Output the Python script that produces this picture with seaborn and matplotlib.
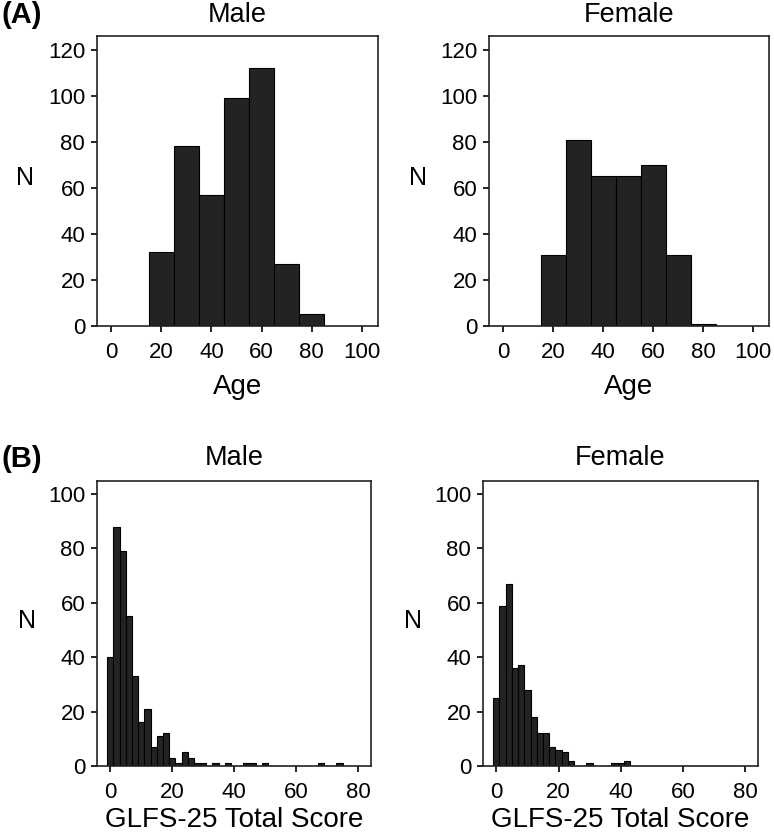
import numpy as np
import pandas as pd
import matplotlib
matplotlib.use("Agg")
import matplotlib.pyplot as plt
import seaborn as sns

# ---- data ----
age_mid = [20, 30, 40, 50, 60, 70, 80]
age_male_n = [32, 78, 57, 99, 112, 27, 5]
age_female_n = [31, 81, 65, 65, 70, 31, 1]

glfs_male_score = [0, 2, 4, 6, 8, 10, 12, 14, 16, 18, 20, 22, 24, 26, 28, 30,
                   34, 38, 44, 46, 50, 68, 74]
glfs_male_n = [40, 88, 79, 55, 33, 16, 21, 7, 11, 12, 3, 1, 5, 3, 1, 1,
               1, 1, 1, 1, 1, 1, 1]

glfs_female_score = [0, 2, 4, 6, 8, 10, 12, 14, 16, 18, 20, 22, 24, 30, 38, 40, 42]
glfs_female_n = [25, 59, 67, 36, 37, 28, 18, 12, 12, 7, 6, 5, 2, 1, 1, 1, 2]

sns.set_style("ticks")
plt.rcParams["font.family"] = ["Liberation Sans", "DejaVu Sans"]
plt.rcParams["text.color"] = "black"
plt.rcParams["axes.labelcolor"] = "black"

fig = plt.figure(figsize=(7.74, 8.36), dpi=100)

W, H = 774, 836


def box(l, t, r, b):
    return [l / W, 1 - b / H, (r - l) / W, (b - t) / H]


axes = {
    "age_m": fig.add_axes(box(97, 36, 378, 326)),
    "age_f": fig.add_axes(box(489, 36, 769, 326)),
    "glfs_m": fig.add_axes(box(97, 481, 371, 766)),
    "glfs_f": fig.add_axes(box(483, 481, 758, 766)),
}

bar_kw = dict(color="#232323", edgecolor="black", linewidth=0.8, alpha=1)

age_bins = np.arange(15, 95, 10)
glfs_bins = np.arange(-1, 79, 2)

df_age_m = pd.DataFrame({"x": age_mid, "n": age_male_n})
df_age_f = pd.DataFrame({"x": age_mid, "n": age_female_n})
df_glfs_m = pd.DataFrame({"x": glfs_male_score, "n": glfs_male_n})
df_glfs_f = pd.DataFrame({"x": glfs_female_score, "n": glfs_female_n})

sns.histplot(data=df_age_m, x="x", weights="n", bins=list(age_bins), ax=axes["age_m"], **bar_kw)
sns.histplot(data=df_age_f, x="x", weights="n", bins=list(age_bins), ax=axes["age_f"], **bar_kw)
sns.histplot(data=df_glfs_m, x="x", weights="n", bins=list(glfs_bins), ax=axes["glfs_m"], **bar_kw)
sns.histplot(data=df_glfs_f, x="x", weights="n", bins=list(glfs_bins), ax=axes["glfs_f"], **bar_kw)

for key, ax in axes.items():
    if key.startswith("age"):
        ax.set_xlim(-5.6, 106.4)
        ax.set_ylim(0, 126)
        ax.set_xticks(range(0, 101, 20))
        ax.set_yticks(range(0, 121, 20))
        ax.set_xlabel("Age", fontsize=20, labelpad=8)
        ax.set_title("Male" if key.endswith("m") else "Female", fontsize=19.5, pad=10)
    else:
        ax.set_xlim(-4.3, 84.2)
        ax.set_ylim(0, 104.8)
        ax.set_xticks(range(0, 81, 20))
        ax.set_yticks(range(0, 101, 20))
        ax.set_xlabel("GLFS-25 Total Score", fontsize=20, labelpad=3)
        ax.set_title("Male" if key.endswith("m") else "Female", fontsize=19.5, pad=11.5)
    ax.set_ylabel("N", fontsize=18, rotation=0, va="center", ha="center")
    ax.yaxis.set_label_coords(-0.255, 0.51)
    ax.tick_params(labelsize=16, length=4.5, width=1.2, color="black", labelcolor="black")
    ax.tick_params(axis="x", pad=7)
    ax.tick_params(axis="y", pad=4)
    for s in ax.spines.values():
        s.set_visible(True)
        s.set_linewidth(1.2)
        s.set_color("#222222")

fig.text(22 / W, 1 - 15 / H, "(A)", fontsize=21, fontweight="bold", ha="center", va="center")
fig.text(22 / W, 1 - 459 / H, "(B)", fontsize=21, fontweight="bold", ha="center", va="center")

fig.savefig("out.png", dpi=100)
